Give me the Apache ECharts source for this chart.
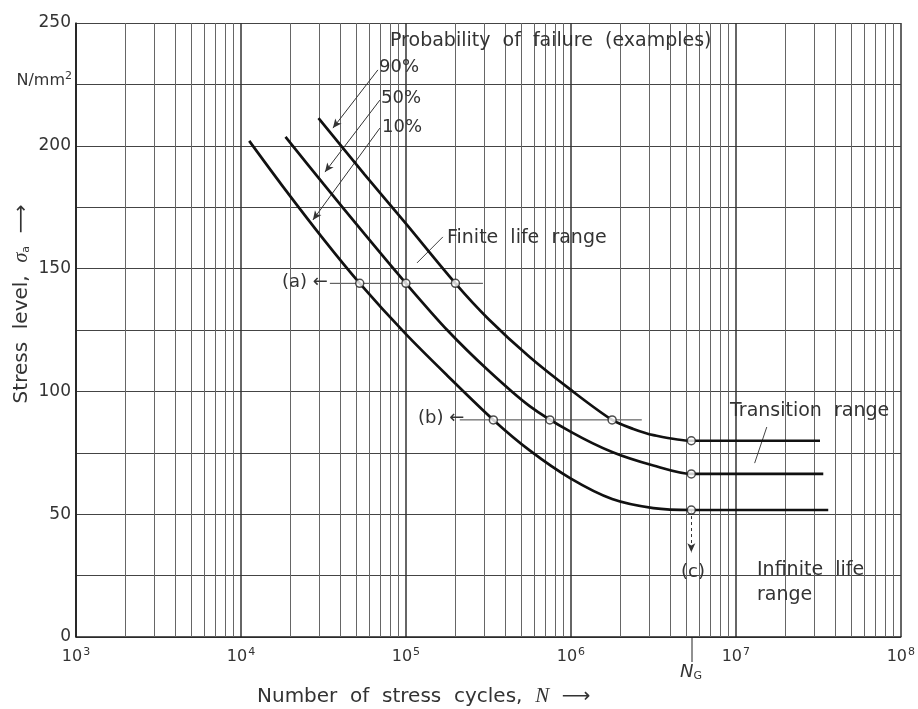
<!DOCTYPE html>
<html>
<head>
<meta charset="utf-8">
<script src="https://cdn.jsdelivr.net/npm/echarts@6/dist/echarts.min.js"></script>
<style>
html, body { margin: 0; padding: 0; background: #fff; }
#chart { width: 918px; height: 709px; }
</style>
</head>
<body>
<div id="chart"></div>
<script>
'use strict';

// S-N curves: number of stress cycles N vs stress level (N/mm2)
var p10N = [11220, 17780, 31620, 52480, 100000, 177800, 338800, 562300, 1000000, 1778000, 3162000, 5370000, 36310000];
var p10S = [202, 183.8, 162, 144, 123.3, 106.5, 88.4, 76, 64.5, 56.2, 52.5, 51.7, 51.7];
var p50N = [18620, 31620, 56230, 100000, 177800, 316200, 562300, 1000000, 1778000, 3162000, 5370000, 33880000];
var p50S = [203.6, 184.5, 164, 144, 125, 108.5, 94, 83.5, 75.3, 69.8, 66.4, 66.4];
var p90N = [29510, 56230, 100000, 199500, 316200, 562300, 1000000, 1778000, 2390000, 3162000, 5370000, 32360000];
var p90S = [211.3, 188.3, 168.3, 144, 129.5, 114, 100.6, 88.4, 84.7, 82.2, 79.9, 79.9];

// open circles at (a), (b) and N_G
var markN = [52480, 100000, 199500, 338800, 746000, 1778000, 5370000, 5370000, 5370000];
var markS = [144, 144, 144, 88.4, 88.4, 88.4, 51.7, 66.4, 79.9];

// horizontal reference lines (a) and (b)
var refAN = [34600, 293000];
var refAS = [144, 144];
var refBN = [212000, 2690000];
var refBS = [88.4, 88.4];

// leader lines [N, S] start -> end
var lead90 = [[67600, 230.9], [36100, 207.2]];
var lead50 = [[69500, 218.6], [32300, 189.3]];
var lead10 = [[69500, 207.2], [27300, 169.8]];
var leadFinite = [[167500, 162.9], [116700, 152.3]];
var leadTrans = [[15400000, 85.5], [13000000, 70.8]];
var leadNG = [[5370000, 51.7], [5370000, 34.5]];

var yTicks = [0, 50, 100, 150, 200, 250];
var decades = [3, 4, 5, 6, 7];
var minorSteps = [2, 3, 4, 5, 6, 7, 8, 9];

var INK = '#222';
var TXT = '#333';
var FONT = '"DejaVu Sans", "Liberation Sans", sans-serif';

function pairs(xs, ys) {
    var out = [];
    for (var i = 0; i < xs.length; i++) {
        out.push([xs[i], ys[i]]);
    }
    return out;
}

var minorLines = [];
decades.forEach(function (d) {
    minorSteps.forEach(function (m) {
        minorLines.push({ xAxis: m * Math.pow(10, d) });
    });
});

function curve(name, xs, ys) {
    return {
        name: name,
        type: 'line',
        data: pairs(xs, ys),
        smooth: 0.3,
        showSymbol: false,
        lineStyle: { color: '#111', width: 2.7 },
        z: 5
    };
}

function thin(data, dash) {
    return {
        type: 'line',
        data: data,
        showSymbol: false,
        lineStyle: { color: '#444', width: 1, type: dash || 'solid' },
        z: 4
    };
}

function leader(seg, dash) {
    return {
        type: 'line',
        data: [],
        markLine: {
            silent: true,
            symbol: ['none', 'arrow'],
            symbolSize: [6, 9],
            label: { show: false },
            lineStyle: { color: '#333', width: 1, type: dash || 'solid' },
            data: [[{ coord: seg[0] }, { coord: seg[1] }]]
        },
        z: 4
    };
}

function txt(text, left, top, size) {
    return {
        type: 'text',
        left: left,
        top: top,
        z: 10,
        style: { text: text, fill: TXT, font: size + 'px ' + FONT }
    };
}

var chart = echarts.init(document.getElementById('chart'));

var options = {
    backgroundColor: '#fff',
    animation: false,
    grid: { left: 76, right: 17, top: 23, bottom: 72 },
    xAxis: {
        type: 'log',
        logBase: 10,
        min: 1e3,
        max: 1e8,
        axisLine: { show: true, lineStyle: { color: INK, width: 1.5 } },
        axisTick: { show: false },
        axisLabel: {
            margin: 10,
            color: TXT,
            fontFamily: FONT,
            fontSize: 16,
            formatter: function (v) {
                return '10{s|' + Math.round(Math.log10(v)) + '}';
            },
            rich: {
                s: { fontSize: 11, verticalAlign: 'top', color: TXT, fontFamily: FONT, padding: [0, 0, 8, 1] }
            }
        },
        splitLine: { show: true, lineStyle: { color: '#333', width: 1.5 } }
    },
    yAxis: {
        type: 'value',
        min: 0,
        max: 250,
        interval: 25,
        axisLine: { show: true, lineStyle: { color: INK, width: 1.5 } },
        axisTick: { show: false },
        axisLabel: {
            margin: 5,
            color: TXT,
            fontFamily: FONT,
            fontSize: 17,
            formatter: function (v) {
                return yTicks.indexOf(v) >= 0 ? String(v) : '';
            }
        },
        splitLine: { show: true, lineStyle: { color: '#444', width: 1.1 } }
    },
    graphic: [
        txt('Probability  of  failure  (examples)', 390, 32, 19),
        txt('90%', 379, 58, 18),
        txt('50%', 381, 89, 18),
        txt('10%', 382, 118, 18),
        txt('Finite  life  range', 447, 229, 19),
        txt('Transition  range', 730, 402, 19),
        txt('Infinite  life', 757, 561, 19),
        txt('range', 757, 586, 19),
        txt('(a) \u2190', 282, 273, 18),
        txt('(b) \u2190', 418, 409, 18),
        txt('(c)', 681, 563, 18),
        {
            type: 'text', right: 918 - 72, top: 71, z: 10,
            style: { text: 'N/mm{s|2}', fill: TXT, font: '16px ' + FONT,
                rich: { s: { fontSize: 11, verticalAlign: 'top', fill: TXT, fontFamily: FONT, padding: [0, 0, 8, 0] } } }
        },
        {
            type: 'text', left: 680, top: 663, z: 10,
            style: { text: '{n|N}{g|G}', fill: TXT,
                rich: {
                    n: { fontSize: 18, fontStyle: 'italic', fontFamily: FONT, fill: TXT },
                    g: { fontSize: 11, fontFamily: FONT, fill: TXT, verticalAlign: 'bottom', padding: [8, 0, 0, 0] }
                } }
        },
        {
            type: 'line', z: 10,
            shape: { x1: 692, y1: 637, x2: 692, y2: 662 },
            style: { stroke: INK, lineWidth: 1 }
        },
        {
            type: 'text', left: 257, top: 686, z: 10,
            style: { text: 'Number  of  stress  cycles,  {i|N}  \u27F6', fill: TXT, font: '20px ' + FONT,
                rich: { i: { fontSize: 21, fontStyle: 'italic', fontFamily: '"Liberation Serif", serif', fill: TXT } } }
        },
        {
            type: 'text', x: 22, y: 304, rotation: Math.PI / 2, z: 10,
            style: { text: 'Stress  level,  {i|σ}{sub|a}  \u27F6', fill: TXT, font: '20px ' + FONT,
                align: 'center', verticalAlign: 'middle',
                rich: {
                    i: { fontSize: 20, fontStyle: 'italic', fontFamily: '"Liberation Serif", serif', fill: TXT },
                    sub: { fontSize: 11, fontFamily: FONT, fill: TXT, verticalAlign: 'bottom', padding: [8, 0, 0, 0] }
                } }
        }
    ],
    series: [
        {
            type: 'line',
            data: [],
            markLine: {
                silent: true,
                symbol: 'none',
                label: { show: false },
                lineStyle: { color: '#666', width: 1, type: 'solid' },
                data: minorLines
            },
            z: 1
        },
        thin(pairs(refAN, refAS)),
        thin(pairs(refBN, refBS)),
        leader(lead90),
        leader(lead50),
        leader(lead10),
        thin(leadFinite),
        thin(leadTrans),
        leader(leadNG, [3, 3]),
        curve('10%', p10N, p10S),
        curve('50%', p50N, p50S),
        curve('90%', p90N, p90S),
        {
            type: 'scatter',
            data: pairs(markN, markS),
            symbol: 'circle',
            symbolSize: 8,
            itemStyle: { color: '#fff', borderColor: '#222', borderWidth: 1.5 },
            z: 8
        }
    ]
};

chart.setOption(options);
chart.resize();
window.onresize = function () {
    chart.resize();
};
</script>
</body>
</html>
